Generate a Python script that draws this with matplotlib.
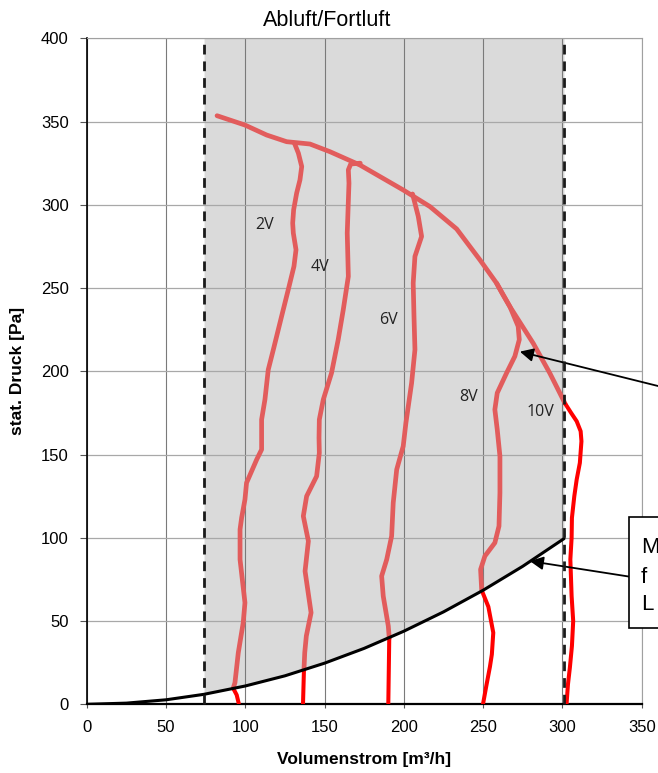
#!/usr/bin/env python3

import numpy as np
import matplotlib
matplotlib.use('Agg')
import matplotlib.pyplot as plt
from matplotlib.patches import Rectangle

###############################################
# data (Volumenstrom m3/h, stat. Druck Pa)

# system curve (black parabola)
anlage_x = [0, 25, 50, 74, 100, 125, 150, 175, 200, 225, 250, 275, 301]
anlage_y = [0, 0.7, 2.7, 6.0, 11.0, 17.1, 24.7, 33.6, 43.9, 55.5, 68.5, 82.9, 99.5]

# limits of the working range (dashed lines)
grenze_links = 74
grenze_rechts = 301

# 10V = upper envelope, part inside the grey range
v10_x = [82.2, 99.8, 113.5, 126.1, 140.8, 153.4, 172.3, 199.6, 216.5, 233.3, 248.0, 258.5, 266.9, 281.6, 292.1, 301.6]
v10_y = [353.5, 347.9, 341.9, 337.9, 336.5, 331.9, 323.9, 308.9, 298.9, 285.5, 266.9, 252.9, 238.8, 216.8, 198.8, 180.8]
v10_x_aus = [301.6, 305.5, 309.0, 311.5, 312.0, 311.0, 309.0, 307.5, 306.0, 305.8, 305.0, 305.8, 306.8, 306.0, 304.7, 303.5, 302.6]
v10_y_aus = [180.8, 175.0, 170.0, 164.0, 158.0, 145.0, 135.0, 125.0, 112.0, 100.0, 87.0, 65.0, 50.0, 35.0, 22.0, 12.0, 0.0]

v2_x = [131.0, 133.5, 135.6, 134.5, 132.4, 130.5, 129.9, 130.3, 132.0, 130.7, 127.1, 122.9, 117.7, 114.5, 112.4, 110.3, 110.3, 107.2, 100.8, 99.8, 97.7, 96.7, 96.7, 99.8, 98.7, 95.6, 93.5, 92.4]
v2_y = [337.0, 331.0, 323.0, 315.0, 307.0, 297.0, 289.0, 283.0, 273.0, 263.0, 249.0, 233.0, 213.0, 201.0, 183.0, 171.0, 153.0, 147.0, 133.0, 123.0, 112.0, 105.0, 87.0, 61.0, 49.0, 31.0, 13.0, 9.6]
v2_x_aus = [92.4, 94.6, 96.0]
v2_y_aus = [9.6, 5.6, 0.0]

v4_x = [172.5, 166.5, 165.0, 165.4, 164.3, 165.0, 161.8, 158.6, 154.4, 149.2, 146.7, 146.5, 146.7, 145.0, 138.7, 136.6, 139.8, 137.7, 141.5, 138.5, 137.5, 137.0]
v4_y = [325.0, 324.5, 321.0, 313.0, 283.0, 257.0, 237.0, 219.0, 199.0, 183.0, 171.0, 160.0, 151.0, 137.0, 125.0, 113.0, 98.0, 80.0, 55.0, 41.0, 31.0, 20.6]
v4_x_aus = [137.0, 136.4]
v4_y_aus = [20.6, 0.0]

v6_x = [205.5, 209.1, 211.2, 207.0, 205.9, 206.4, 207.0, 204.9, 201.3, 199.6, 195.5, 193.3, 192.3, 189.2, 186.0, 187.0, 190.2, 190.8]
v6_y = [306.5, 293.0, 281.0, 269.0, 253.0, 233.0, 213.0, 193.0, 169.0, 155.0, 141.0, 121.0, 101.0, 87.0, 77.0, 65.0, 47.0, 39.7]
v6_x_aus = [190.8, 190.5, 190.2]
v6_y_aus = [39.7, 20.0, 0.0]

v8_x = [258.5, 262.5, 266.9, 272.1, 272.8, 270.0, 264.8, 258.9, 257.4, 258.9, 260.6, 260.6, 260.0, 257.4, 251.1, 248.4, 249.1]
v8_y = [252.9, 246.0, 238.8, 227.0, 219.0, 209.0, 199.0, 187.0, 177.0, 165.0, 149.0, 127.0, 107.0, 97.0, 89.0, 81.0, 68.5]
v8_x_aus = [249.1, 253.3, 256.4, 255.5, 254.3, 252.0, 249.9]
v8_y_aus = [68.5, 58.6, 43.0, 30.0, 22.6, 11.0, 0.0]

kurven_label = ['2V', '4V', '6V', '8V', '10V']
label_x = [112.4, 147.1, 190.2, 240.6, 286.2]
label_y = [287.8, 262.8, 230.8, 184.7, 175.7]

x_ticks = [0, 50, 100, 150, 200, 250, 300, 350]
y_ticks = [0, 50, 100, 150, 200, 250, 300, 350, 400]

###############################################

rot_blass = '#e25c5c'
rot = '#ff0000'
W, H = 658, 773

fig = plt.figure(figsize=(W / 100.0, H / 100.0), dpi=100)
ax = fig.add_axes([86.7 / W, 1 - 704.3 / H, 555.0 / W, 666.0 / H])

ax.set_xlim(0, 350)
ax.set_ylim(0, 400)

# grey working range between the dashed limits, above the system curve
ax_fill = np.array(anlage_x[3:])
ay_fill = np.array(anlage_y[3:])
ax.fill_between(ax_fill, ay_fill, 400, color='#dadada', lw=0, zorder=0.3)

# grid
ax.set_axisbelow(True)
ax.set_xticks(x_ticks)
ax.set_yticks(y_ticks)
ax.xaxis.grid(True, color='#7a7a7a', lw=0.8)
ax.yaxis.grid(True, color='#a8a8a8', lw=0.9)

# system curve
ax.plot(anlage_x, anlage_y, color='black', lw=2.2, zorder=4, solid_capstyle='round')

# fan curves
kurven = [(v2_x, v2_y, v2_x_aus, v2_y_aus),
          (v4_x, v4_y, v4_x_aus, v4_y_aus),
          (v6_x, v6_y, v6_x_aus, v6_y_aus),
          (v8_x, v8_y, v8_x_aus, v8_y_aus),
          (v10_x, v10_y, v10_x_aus, v10_y_aus)]
for kx, ky, kxa, kya in kurven:
  ax.plot(kx, ky, color=rot_blass, lw=3.4, zorder=3, solid_capstyle='round', solid_joinstyle='round')
  ax.plot(kxa, kya, color=rot, lw=2.9, zorder=3, solid_capstyle='butt', solid_joinstyle='round')

for txt, lx, ly in zip(kurven_label, label_x, label_y):
  ax.text(lx, ly, txt, fontsize=11.5, family='Open Sans', ha='center', va='center', color='#222222', zorder=5)

# dashed limits
for gx in [grenze_links, grenze_rechts]:
  ax.plot([gx, gx], [0, 400], color='#1a1a1a', lw=2.0, dashes=(3.5, 2.5), zorder=5, clip_on=False)

# annotations (text boxes mostly outside the picture)
ax.annotate('', xy=(273.2, 211.8), xytext=(361.0, 191.0), annotation_clip=False,
            arrowprops=dict(arrowstyle='-|>', color='black', lw=1.3, mutation_scale=20, shrinkA=0, shrinkB=0))
ax.annotate('', xy=(279.5, 86.0), xytext=(342.1, 76.7), annotation_clip=False,
            arrowprops=dict(arrowstyle='-|>', color='black', lw=1.3, mutation_scale=20, shrinkA=0, shrinkB=0))
box = Rectangle((342.1, 45.6), 30, 67.1, facecolor='white', edgecolor='black', lw=1.2, clip_on=False, zorder=6)
ax.add_patch(box)
for zeile, zy in zip(['M', 'f', 'L'], [94.0, 76.0, 60.0]):
  ax.text(349.5, zy, zeile, fontsize=16, family='Liberation Sans', ha='left', va='center', zorder=7, clip_on=False)

# spines and ticks
ax.spines['left'].set_color('black')
ax.spines['left'].set_linewidth(1.2)
ax.spines['bottom'].set_color('black')
ax.spines['bottom'].set_linewidth(1.6)
ax.spines['top'].set_color('#a0a0a0')
ax.spines['right'].set_color('#a0a0a0')
ax.tick_params(axis='y', direction='out', length=5, width=0.8, pad=8, labelsize=12, color='#555555')
ax.tick_params(axis='x', direction='out', length=3, width=0.8, pad=8, labelsize=12, color='#555555')
for lab in ax.get_xticklabels() + ax.get_yticklabels():
  lab.set_family('Liberation Sans')

ax.set_xlabel('Volumenstrom [m³/h]', fontsize=12.5, fontweight='bold', family='Liberation Sans')
ax.set_ylabel('stat. Druck [Pa]', fontsize=12.5, fontweight='bold', family='Liberation Sans')
ax.xaxis.set_label_coords(0.5, -0.072)
ax.yaxis.set_label_coords(-0.111, 0.5)

fig.text(327.0 / W, 1 - 21.0 / H, 'Abluft/Fortluft', fontsize=15.5, family='Liberation Sans', ha='center', va='center')

fig.savefig('out.png', dpi=100)
